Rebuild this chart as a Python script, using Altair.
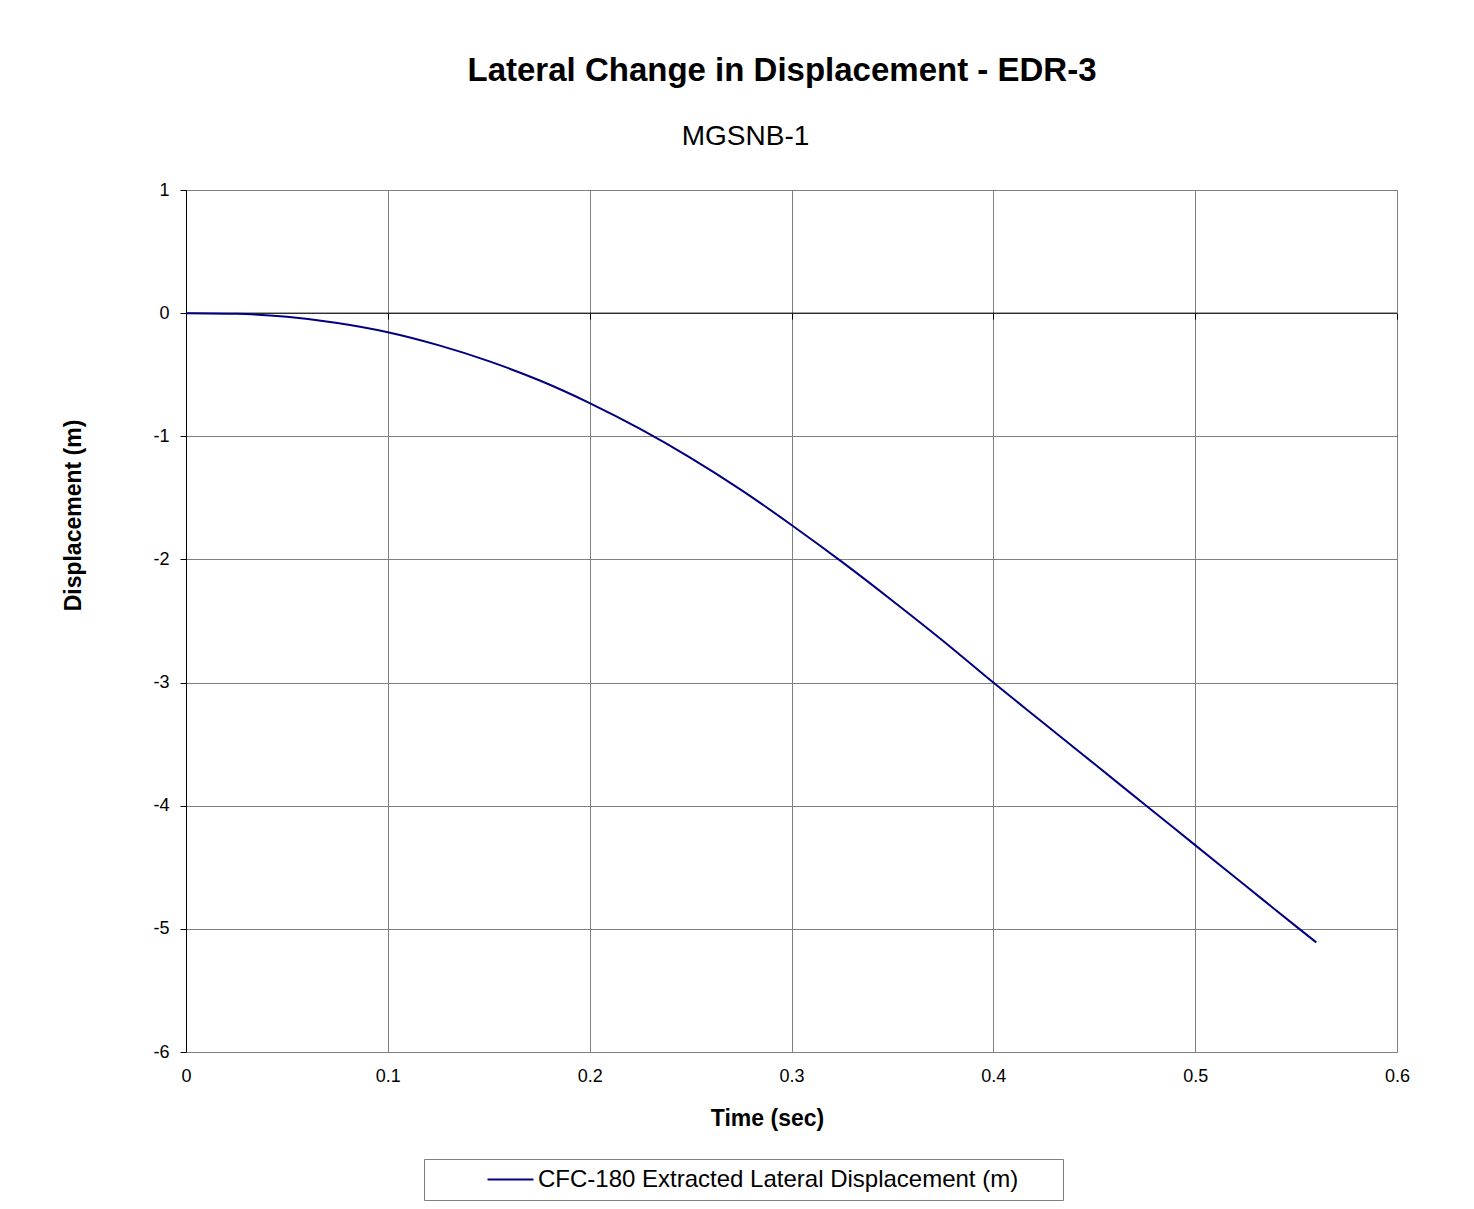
import altair as alt
import pandas as pd

TITLE = "Lateral Change in Displacement - EDR-3"
SUBTITLE = "MGSNB-1"
SERIES = "CFC-180 Extracted Lateral Displacement (m)"
X_TITLE = "Time (sec)"
Y_TITLE = "Displacement (m)"

time_s = [0, 0.025, 0.05, 0.075, 0.1, 0.125, 0.15, 0.175, 0.2, 0.225, 0.25, 0.275,
          0.3, 0.325, 0.35, 0.375, 0.4, 0.425, 0.45, 0.475, 0.5, 0.525, 0.55, 0.56]
disp_m = [0, -0.005, -0.03, -0.08, -0.155, -0.26, -0.39, -0.545, -0.73, -0.94, -1.175, -1.435,
          -1.72, -2.02, -2.335, -2.66, -3.0, -3.33, -3.66, -3.99, -4.32, -4.65, -4.98, -5.11]

x_ticks = [0, 0.1, 0.2, 0.3, 0.4, 0.5, 0.6]
y_ticks = [1, 0, -1, -2, -3, -4, -5, -6]

FONT = "Liberation Sans, Arial, sans-serif"
W, H = 1211, 862
LABEL_EXPR = "'' + datum.value"

df = pd.DataFrame({"t": time_s, "d": disp_m, "series": SERIES})
zero_df = pd.DataFrame({"t": [x_ticks[0], x_ticks[-1]], "d": [0, 0]})
head_df = pd.DataFrame({"title": [TITLE], "sub": [SUBTITLE]})

xscale = alt.Scale(domain=[0, 0.6], nice=False, zero=False)
yscale = alt.Scale(domain=[-6, 1], nice=False, zero=False)

# black zero line with its tick marks (Excel axis crossing at 0)
zero_layer = alt.Chart(zero_df).mark_line(color="black", strokeWidth=1).encode(
    x=alt.X("t:Q", scale=xscale,
            axis=alt.Axis(orient="bottom", offset=-(H - H / 7.0), values=x_ticks,
                          labels=False, grid=False, domain=False, ticks=True,
                          tickColor="black", tickSize=6, title=None)),
    y=alt.Y("d:Q", scale=yscale),
)

line_layer = alt.Chart(df).mark_line(strokeWidth=2, interpolate="monotone").encode(
    x=alt.X("t:Q", scale=xscale,
            axis=alt.Axis(orient="bottom", values=x_ticks, labelExpr=LABEL_EXPR,
                          labelFlush=False,
                          grid=True, gridColor="#808080",
                          domain=False, ticks=True, tickSize=0, labelPadding=15,
                          labelFontSize=18, labelColor="black", labelFont=FONT,
                          title=X_TITLE, titleFontSize=23, titleFont=FONT,
                          titleFontWeight="bold", titleColor="black",
                          titleX=581, titleY=73, titleBaseline="alphabetic",
                          titleAlign="center")),
    y=alt.Y("d:Q", scale=yscale,
            axis=alt.Axis(values=y_ticks, labelExpr=LABEL_EXPR, labelFlush=False,
                          grid=True, gridColor="#808080",
                          domain=True, domainColor="black", ticks=True, tickColor="black",
                          tickSize=6, labelPadding=11, labelFontSize=18,
                          labelColor="black", labelFont=FONT,
                          title=Y_TITLE, titleFontSize=23, titleFont=FONT,
                          titleFontWeight="bold", titleColor="black",
                          titleX=-106, titleY=325, titleAngle=270,
                          titleBaseline="alphabetic", titleAlign="center")),
    color=alt.Color("series:N",
                    scale=alt.Scale(domain=[SERIES], range=["#000080"]),
                    legend=alt.Legend(orient="none", legendX=238, legendY=969,
                                      title=None, padding=8, symbolOffset=66,
                                      strokeColor="#808080", fillColor="white",
                                      symbolType="M-2,0L2,0", symbolSize=529,
                                      symbolStrokeWidth=2, labelFontSize=24,
                                      labelFont=FONT, labelColor="black",
                                      labelOffset=15,
                                      labelExpr="datum.label + '\u2800\u2800'",
                                      labelLimit=800)),
)

title_layer = alt.Chart(head_df).mark_text(
    fontSize=33, font=FONT, fontWeight="bold", color="black",
    align="center", baseline="alphabetic"
).encode(x=alt.value(596), y=alt.value(-109), text="title:N")

sub_layer = alt.Chart(head_df).mark_text(
    fontSize=28, font=FONT, color="black", align="center", baseline="alphabetic"
).encode(x=alt.value(559.5), y=alt.value(-45), text="sub:N")

chart = alt.layer(zero_layer, line_layer, title_layer, sub_layer).resolve_axis(
    x="independent"
).properties(
    width=W, height=H,
    padding={"left": 178, "top": 182, "right": 69, "bottom": 149},
    autosize="none",
).configure_view(stroke="#808080", strokeWidth=1).configure(background="white")

chart.save("out.html", embed_options={"renderer": "svg", "actions": False})
